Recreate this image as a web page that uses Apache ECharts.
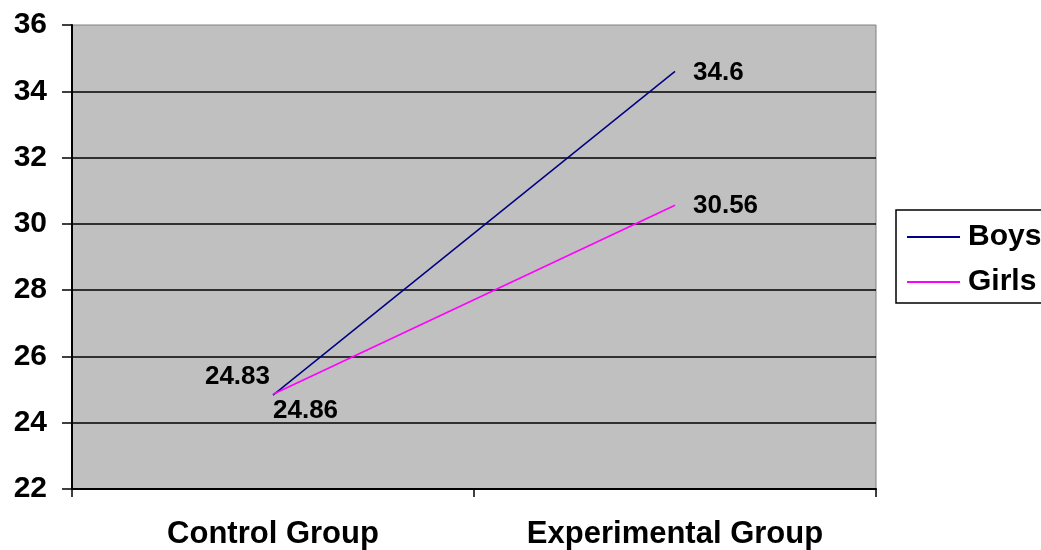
<!DOCTYPE html>
<html><head><meta charset="utf-8">
<script src="https://cdn.jsdelivr.net/npm/echarts@6/dist/echarts.min.js"></script>
<style>html,body{margin:0;padding:0;background:#fff}#c{width:1041px;height:550px}</style>
</head><body><div id="c"></div>
<script>
const categories = ['Control Group', 'Experimental Group'];
const boys = [24.83, 34.6];
const girls = [24.86, 30.56];
const seriesNames = ['Boys', 'Girls'];
const yTicks = {min: 22, max: 36, interval: 2};

const FONT = 'Liberation Sans, Arial, sans-serif';
const lblBase = {show: true, color: '#000', fontFamily: FONT, fontWeight: 'bold', fontSize: 26};

function pts(vals, firstLabel) {
  return vals.map((v, i) => ({
    value: v,
    label: i === 0 ? Object.assign({}, lblBase, firstLabel) : Object.assign({}, lblBase, {position: 'right', distance: 18, offset: [0, 1]})
  }));
}

const chart = echarts.init(document.getElementById('c'), null, {renderer: 'canvas'});
chart.setOption({
  animation: false,
  backgroundColor: '#ffffff',
  grid: {left: 72, right: 165, top: 25, bottom: 61, outerBoundsMode: 'none', containLabel: false,
         show: true, backgroundColor: '#C0C0C0', borderColor: '#808080', borderWidth: 1},
  legend: {
    orient: 'vertical', left: 896, top: 210,
    padding: [10, 10, 4, 11],
    borderColor: '#000', borderWidth: 1.5, backgroundColor: '#fff',
    itemWidth: 53, itemHeight: 2, itemGap: 11,
    textStyle: {fontFamily: FONT, fontWeight: 'bold', fontSize: 30, color: '#000', lineHeight: 34, padding: [0, 0, 0, 3]},
    data: seriesNames.map(n => ({name: n, icon: 'rect'}))
  },
  xAxis: {
    type: 'category', data: categories, boundaryGap: true,
    axisLine: {lineStyle: {color: '#000', width: 2}},
    axisTick: {show: true, length: 8, lineStyle: {color: '#000', width: 1.5}},
    axisLabel: {color: '#000', fontFamily: FONT, fontWeight: 'bold', fontSize: 31, margin: 30},
    splitLine: {show: false}
  },
  yAxis: {
    type: 'value', min: yTicks.min, max: yTicks.max, interval: yTicks.interval,
    axisLine: {show: true, lineStyle: {color: '#000', width: 2}},
    axisTick: {show: true, length: 10, lineStyle: {color: '#000', width: 1.5}},
    axisLabel: {color: '#000', fontFamily: FONT, fontWeight: 'bold', fontSize: 30, margin: 25},
    splitLine: {show: true, showMaxLine: false, lineStyle: {color: '#000', width: 1.5}}
  },
  series: [
    {name: 'Boys', type: 'line', symbol: 'circle', symbolSize: 0, showSymbol: true, color: '#000080', lineStyle: {color: '#000080', width: 1.5},
     data: pts(boys, {position: 'left', distance: 3, offset: [0, -18]})},
    {name: 'Girls', type: 'line', symbol: 'circle', symbolSize: 0, showSymbol: true, color: '#FF00FF', lineStyle: {color: '#FF00FF', width: 1.5},
     data: pts(girls, {position: 'right', distance: 0, offset: [0, 17]})}
  ]
});
</script></body></html>
